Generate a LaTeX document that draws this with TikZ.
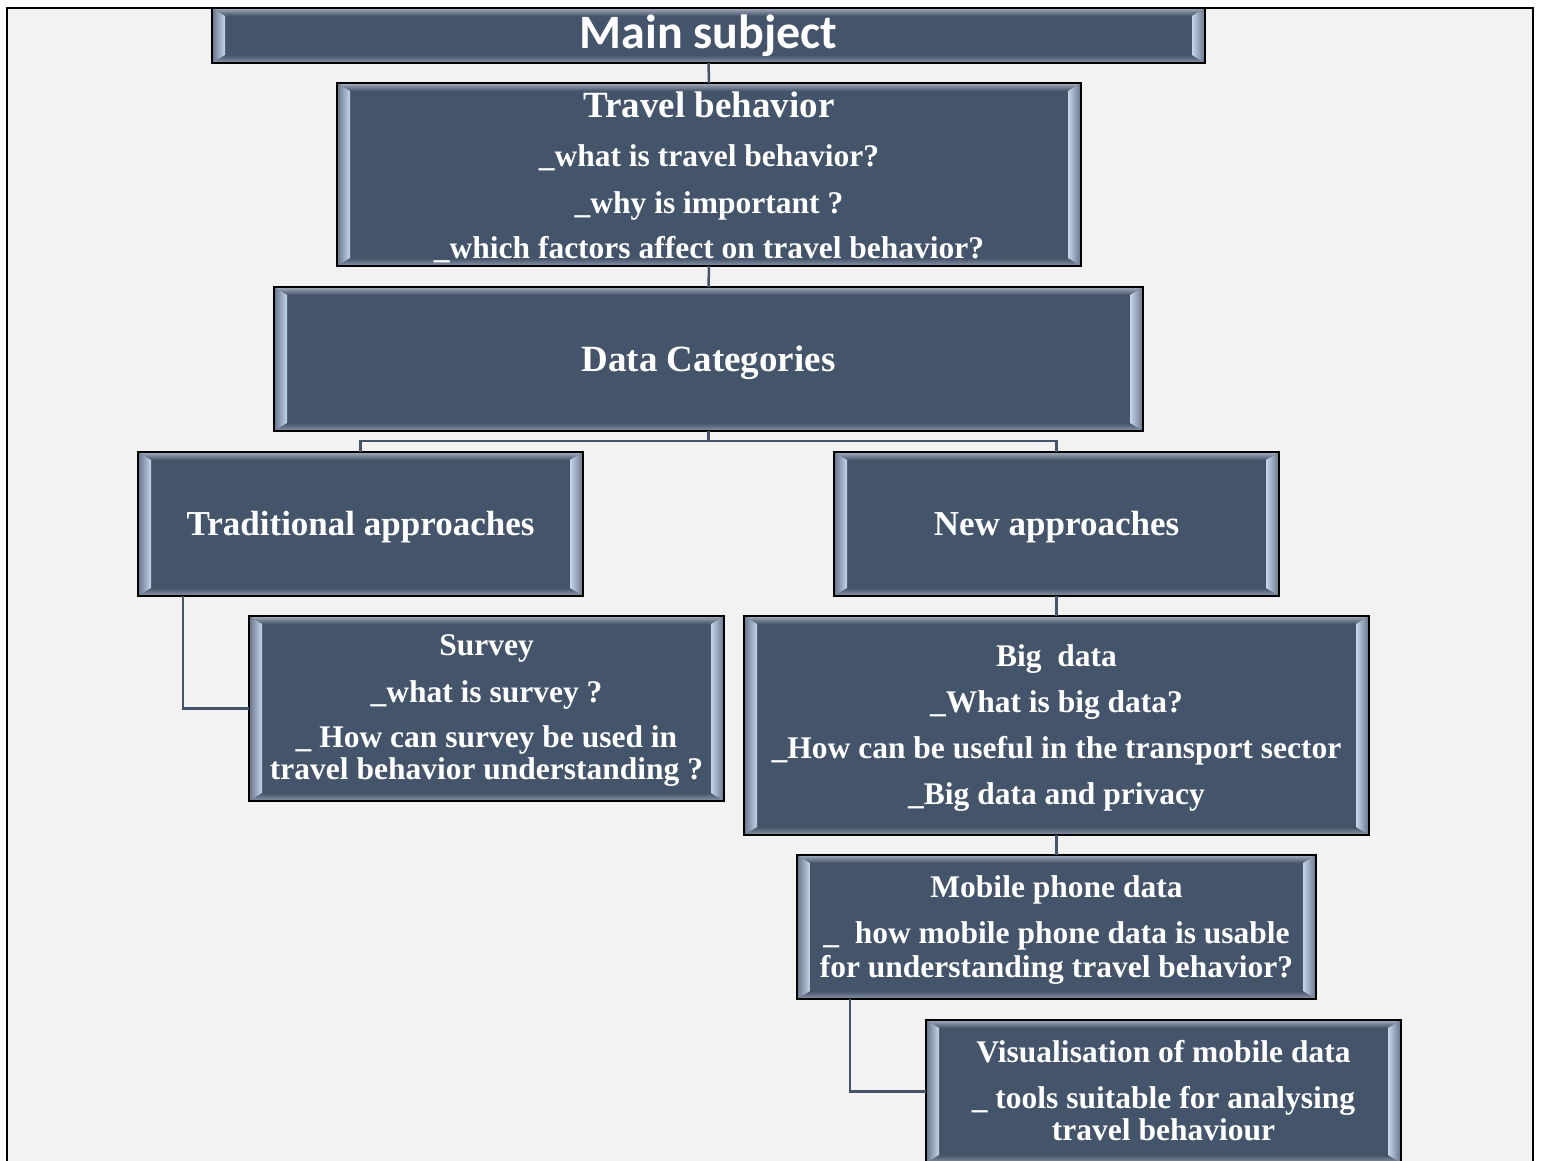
\documentclass[tikz,border=0pt]{standalone}
\usepackage{fontspec}
\setmainfont{Liberation Serif}
\newfontfamily\calib{Carlito}
\usetikzlibrary{calc}
\definecolor{slate}{HTML}{44546A}
\definecolor{bgc}{HTML}{F2F2F2}
\definecolor{hil}{HTML}{C5D5EA}
\definecolor{sdk}{HTML}{66748A}
\definecolor{tpl}{HTML}{A5AFBF}
\definecolor{btl}{HTML}{8D98AB}
\newcommand\bodyf{\bfseries\fontsize{31.5}{34}\selectfont}
\newcommand\headf{\bfseries\fontsize{37}{40}\selectfont}
\newcommand\headsf{\bfseries\fontsize{35}{38}\selectfont}
\newcommand\mainf{\calib\bfseries\fontsize{48}{50}\selectfont}
\tikzset{
  bx/.style={rectangle, draw=black, line width=2pt, fill=slate, inner sep=0pt, outer sep=0pt,
    path picture={
      \coordinate (pnw) at (path picture bounding box.north west);
      \coordinate (pne) at (path picture bounding box.north east);
      \coordinate (psw) at (path picture bounding box.south west);
      \coordinate (pse) at (path picture bounding box.south east);
      \shade[top color=tpl, bottom color=slate] (pnw) -- (pne) -- ($(pne)+(-13pt,-8pt)$) -- ($(pnw)+(13pt,-8pt)$) -- cycle;
      \shade[top color=slate, bottom color=btl] (psw) -- (pse) -- ($(pse)+(-13pt,8pt)$) -- ($(psw)+(13pt,8pt)$) -- cycle;
      \shade[left color=sdk, right color=hil] (pnw) -- ($(pnw)+(13pt,-8pt)$) -- ($(psw)+(13pt,8pt)$) -- (psw) -- cycle;
      \shade[left color=hil, right color=sdk] (pne) -- ($(pne)+(-13pt,-8pt)$) -- ($(pse)+(-13pt,8pt)$) -- (pse) -- cycle;
    }},
  conn/.style={draw=slate, line width=2.5pt},
  txt/.style={text=white, anchor=base, inner sep=0pt, font=\bodyf},
  hd/.style={txt, font=\headf},
  hds/.style={txt, font=\headsf}
}
\begin{document}
\begin{tikzpicture}[x=1pt,y=-1pt]
\fill[white] (0,0) rectangle (1541,1160);
\useasboundingbox (0,0) rectangle (1541,1160);
\draw[black, line width=2.5pt, fill=bgc] (7,8) rectangle (1533,1180);

% boxes
\node[bx, minimum width=993pt, minimum height=55pt] (main) at (708.5,35.5) {};
\node[bx, minimum width=744pt, minimum height=183pt] (travel) at (709,174.5) {};
\node[bx, minimum width=869pt, minimum height=144pt] (datacat) at (708.5,359) {};
\node[bx, minimum width=445pt, minimum height=144pt] (trad) at (360.5,524) {};
\node[bx, minimum width=445pt, minimum height=144pt] (new) at (1056.5,524) {};
\node[bx, minimum width=475pt, minimum height=185pt] (survey) at (486.5,708.5) {};
\node[bx, minimum width=625pt, minimum height=219pt] (big) at (1056.5,725.5) {};
\node[bx, minimum width=519pt, minimum height=144pt] (mobile) at (1056.5,927) {};
\node[bx, minimum width=475pt, minimum height=143pt] (vis) at (1163.5,1091.5) {};

% connectors
\coordinate (jn) at (708.5,441);
\draw[conn] (main.south) -- (travel.north);
\draw[conn] (travel.south) -- (datacat.north);
\draw[conn] (datacat.south) -- (jn);
\draw[conn] (jn) -| (trad.north);
\draw[conn] (jn) -| (new.north);
\draw[conn] ($(trad.south west)+(45pt,0pt)$) |- (survey.west);
\draw[conn] (new.south) -- (big.north);
\draw[conn] (big.south) -- (mobile.north);
\draw[conn] ($(mobile.south west)+(53pt,0pt)$) |- (vis.west);

% texts
\node[txt, font=\mainf] (tmain) at (708.5,48) {Main subject};

\node[hd] (tr1) at (709,117) {Travel behavior};
\node[txt] (tr2) at (709,166) {\_what is travel behavior?};
\node[txt] (tr3) at (709,213) {\_why is important ?};
\node[txt] (tr4) at (709,258) {\_which factors affect on travel behavior?};

\node[hd] (tdc) at (708.5,371) {Data Categories};
\node[hds] (ttr) at (360.5,535) {Traditional approaches};
\node[hds] (tnw) at (1056.5,535) {New approaches};

\node[txt] (sv1) at (486.5,655) {Survey};
\node[txt] (sv2) at (486.5,702) {\_what is survey ?};
\node[txt] (sv3) at (486.5,747) {\_ How can survey be used in};
\node[txt] (sv4) at (486.5,779) {travel behavior understanding ?};

\node[txt] (bg1) at (1056.5,666) {Big\ \ data};
\node[txt] (bg2) at (1056.5,712) {\_What is big data?};
\node[txt] (bg3) at (1056.5,758) {\_How can be useful in the transport sector};
\node[txt] (bg4) at (1056.5,804) {\_Big data and privacy};

\node[txt] (mb1) at (1056.5,897) {Mobile phone data};
\node[txt] (mb2) at (1056.5,943) {\_\ \ how mobile phone data is usable};
\node[txt] (mb3) at (1056.5,977) {for understanding travel behavior?};

\node[txt] (vs1) at (1163.5,1062) {Visualisation of mobile data};
\node[txt] (vs2) at (1163.5,1108) {\_ tools suitable for analysing};
\node[txt] (vs3) at (1163.5,1140) {travel behaviour};
\end{tikzpicture}
\end{document}
